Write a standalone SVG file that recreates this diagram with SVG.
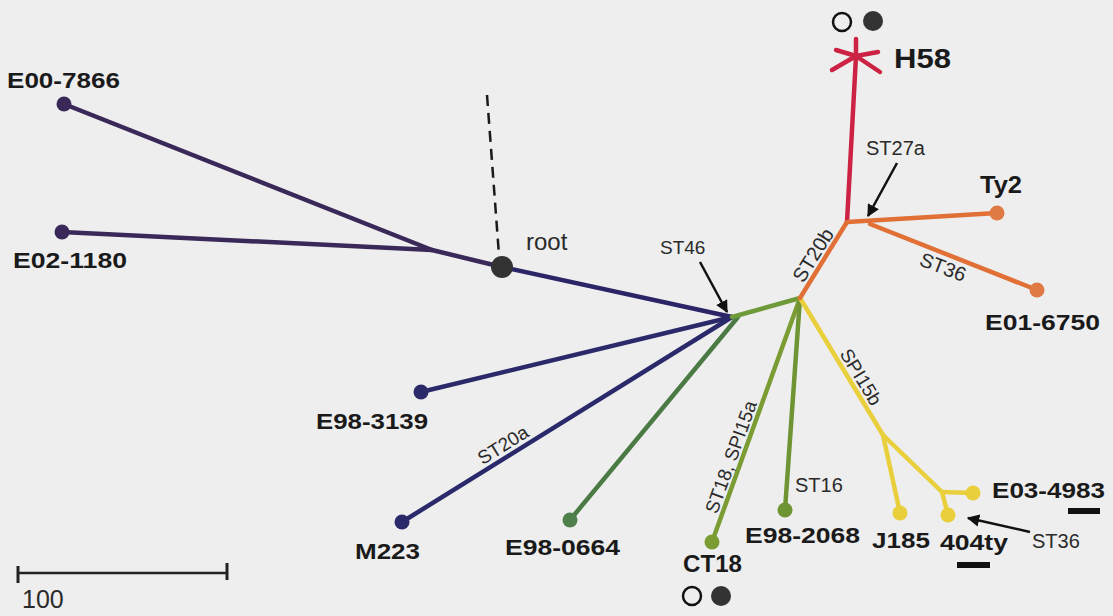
<svg xmlns="http://www.w3.org/2000/svg" width="1113" height="616" viewBox="0 0 1113 616">
<defs>
<style>
.br{fill:none;stroke-width:4.5;stroke-linecap:round;stroke-linejoin:round}
.lb{font-family:"Liberation Sans",Arial,sans-serif;font-weight:bold;font-size:22px;fill:#1a1a1a}
.rg{font-family:"Liberation Sans",Arial,sans-serif;font-size:20px;fill:#2a2a2a}
.arr{stroke:#111;stroke-width:2.5;fill:none;marker-end:url(#ah)}
</style>
<marker id="ah" viewBox="0 0 10 10" refX="9" refY="5" markerWidth="5" markerHeight="5" orient="auto" markerUnits="strokeWidth">
<path d="M0,0 L10,5 L0,10 z" fill="#111"/>
</marker>
</defs>
<rect width="1113" height="616" fill="#eeeeee"/>
<g id="connectors">
<line class="br" x1="64" y1="104" x2="432" y2="250" stroke="#3a2858"/>
<line class="br" x1="62" y1="232" x2="432" y2="250" stroke="#3a2858"/>
<line class="br" x1="432" y1="250" x2="502" y2="267" stroke="#3a2858"/>
<line x1="487" y1="95" x2="499" y2="255" stroke="#1a1a1a" stroke-width="2.5" stroke-dasharray="11,7"/>
<line class="br" x1="502" y1="267" x2="732" y2="317" stroke="#2b2568"/>
<line class="br" x1="732" y1="317" x2="421" y2="392" stroke="#2a2a6b"/>
<line class="br" x1="732" y1="317" x2="402" y2="522" stroke="#2a2a6b"/>
<line class="br" x1="738" y1="317" x2="570" y2="520" stroke="#4b7a45"/>
<line class="br" x1="732" y1="317" x2="800" y2="298" stroke="#6f9a3a"/>
<line class="br" x1="800" y1="298" x2="712" y2="542" stroke="#7a9c32"/>
<line class="br" x1="800" y1="298" x2="785" y2="510" stroke="#6e9433"/>
<line class="br" x1="800" y1="298" x2="883" y2="435" stroke="#e9cf3c"/>
<line class="br" x1="883" y1="435" x2="900" y2="513" stroke="#e9cf3c"/>
<line class="br" x1="883" y1="435" x2="942" y2="492" stroke="#e9cf3c"/>
<line class="br" x1="942" y1="492" x2="973" y2="493" stroke="#e9cf3c"/>
<line class="br" x1="942" y1="492" x2="948" y2="515" stroke="#e9cf3c"/>
<line class="br" x1="800" y1="298" x2="847" y2="222" stroke="#e07035"/>
<line class="br" x1="847" y1="222" x2="856" y2="56" stroke="#cc2244"/>
<line class="br" x1="847" y1="222" x2="997" y2="213" stroke="#e07035"/>
<line class="br" x1="870" y1="224" x2="1037" y2="290" stroke="#e07035"/>
<line class="arr" x1="700" y1="262" x2="727" y2="312"/>
<line class="arr" x1="897" y1="163" x2="868" y2="216"/>
<line class="arr" x1="1030" y1="532" x2="968" y2="518"/>
</g>
<g id="E00-7866"><circle cx="64" cy="104" r="7.5" fill="#3a2858"/><text class="lb" x="7" y="88" textLength="113" lengthAdjust="spacingAndGlyphs">E00-7866</text></g>
<g id="E02-1180"><circle cx="62" cy="232" r="7.5" fill="#3a2858"/><text class="lb" x="13" y="268" textLength="114" lengthAdjust="spacingAndGlyphs">E02-1180</text></g>
<g id="root"><circle cx="502" cy="267" r="11" fill="#333"/><text class="rg" x="526" y="250" style="font-size:24px">root</text></g>
<g id="E98-3139"><circle cx="421" cy="392" r="7.5" fill="#2a2a6b"/><text class="lb" x="316" y="429" textLength="112" lengthAdjust="spacingAndGlyphs">E98-3139</text></g>
<g id="M223"><circle cx="402" cy="522" r="7.5" fill="#2a2a6b"/><text class="lb" x="355" y="559" textLength="65" lengthAdjust="spacingAndGlyphs">M223</text></g>
<g id="E98-0664"><circle cx="570" cy="520" r="7.5" fill="#4f7f4a"/><text class="lb" x="505" y="555" textLength="115" lengthAdjust="spacingAndGlyphs">E98-0664</text></g>
<g id="CT18"><circle cx="712" cy="542" r="7.5" fill="#7a9c32"/><text class="lb" x="683" y="572" style="font-size:24px" textLength="59" lengthAdjust="spacingAndGlyphs">CT18</text>
<circle cx="692" cy="596" r="9" fill="none" stroke="#111" stroke-width="2.5"/><circle cx="721" cy="596" r="10" fill="#333"/></g>
<g id="E98-2068"><circle cx="785" cy="510" r="7.5" fill="#6e9433"/><text class="lb" x="745" y="543" textLength="115" lengthAdjust="spacingAndGlyphs">E98-2068</text></g>
<g id="J185"><circle cx="900" cy="513" r="7.5" fill="#e9cf3c"/><text class="lb" x="872" y="548" textLength="58" lengthAdjust="spacingAndGlyphs">J185</text></g>
<g id="404ty"><circle cx="948" cy="515" r="7.5" fill="#e9cf3c"/><text class="lb" x="940" y="550" textLength="68" lengthAdjust="spacingAndGlyphs">404ty</text><rect x="957" y="562" width="33" height="6" fill="#111"/></g>
<g id="E03-4983"><circle cx="973" cy="493" r="7.5" fill="#e9cf3c"/><text class="lb" x="992" y="498" textLength="113" lengthAdjust="spacingAndGlyphs">E03-4983</text><rect x="1068" y="508" width="32" height="6" fill="#111"/></g>
<g id="Ty2"><circle cx="997" cy="213" r="7.5" fill="#e07a45"/><text class="lb" x="980" y="193" style="font-size:23px" textLength="42" lengthAdjust="spacingAndGlyphs">Ty2</text></g>
<g id="E01-6750"><circle cx="1037" cy="290" r="7.5" fill="#e07a45"/><text class="lb" x="985" y="330" textLength="115" lengthAdjust="spacingAndGlyphs">E01-6750</text></g>
<g id="H58">
<g stroke="#cc2244" stroke-width="4.5" stroke-linecap="round">
<line x1="856" y1="56" x2="856" y2="39"/><line x1="856" y1="56" x2="836" y2="50"/><line x1="856" y1="56" x2="878" y2="52"/><line x1="856" y1="56" x2="832" y2="70"/><line x1="856" y1="56" x2="880" y2="72"/>
</g>
<circle cx="842" cy="22" r="9" fill="none" stroke="#111" stroke-width="2.5"/><circle cx="873" cy="21" r="10" fill="#333"/>
<text class="lb" x="894" y="68" style="font-size:28px" textLength="57" lengthAdjust="spacingAndGlyphs">H58</text>
</g>
<g id="branch-labels">
<text class="rg" x="660" y="254" style="font-size:19px">ST46</text>
<text class="rg" x="866" y="155">ST27a</text>
<text class="rg" x="795" y="492">ST16</text>
<text class="rg" x="1032" y="548">ST36</text>
<text class="rg" text-anchor="middle" dominant-baseline="central" transform="rotate(-58 813 255)" x="813" y="255">ST20b</text>
<text class="rg" text-anchor="middle" dominant-baseline="central" transform="rotate(21 943 267)" x="943" y="267">ST36</text>
<text class="rg" text-anchor="middle" dominant-baseline="central" transform="rotate(-32 503 445)" x="503" y="445" style="font-size:19px">ST20a</text>
<text class="rg" text-anchor="middle" dominant-baseline="central" transform="rotate(-70.2 731 457)" x="731" y="457" style="font-size:19px">ST18, SPI15a</text>
<text class="rg" text-anchor="middle" dominant-baseline="central" transform="rotate(58.8 861 377)" x="861" y="377" style="font-size:19px">SPI15b</text>
</g>
<g id="scale">
<line x1="18" y1="573" x2="227" y2="573" stroke="#222" stroke-width="2.5"/>
<line x1="18" y1="566" x2="18" y2="583" stroke="#222" stroke-width="3"/>
<line x1="227" y1="563" x2="227" y2="580" stroke="#222" stroke-width="3"/>
<text class="rg" x="22" y="608" style="font-size:25px">100</text>
</g>
</svg>
